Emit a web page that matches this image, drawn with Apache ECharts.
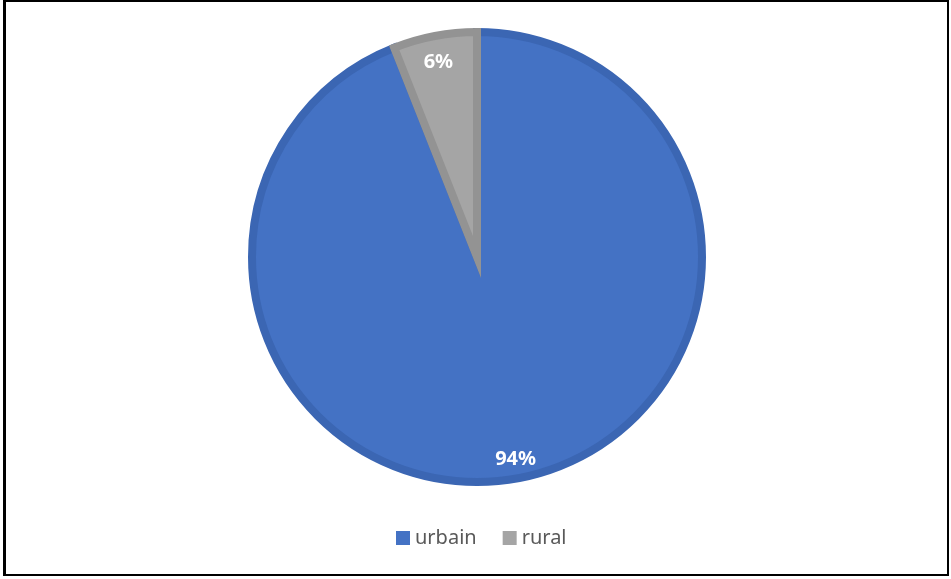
<!DOCTYPE html>
<html>
<head>
<meta charset="utf-8">
<script src="https://cdn.jsdelivr.net/npm/echarts@6/dist/echarts.min.js"></script>
<style>
  html, body { margin: 0; padding: 0; background: #fff; }
  #chart { position: absolute; left: 0; top: 0; width: 951px; height: 579px; }
  .frame {
    position: absolute; left: 3px; top: 0; width: 946px; height: 576px;
    box-sizing: border-box; border: 2px solid #000; border-left-width: 3px;
    pointer-events: none;
  }
</style>
</head>
<body>
<div id="chart"></div>
<div class="frame"></div>
<script>
// 数据
const categories = ["urbain", "rural"];
const values = [94, 6];
const colors = ["#4472C4", "#A5A5A5"];
const borderColors = ["#3B66B3", "#939393"];

const pieData = categories.map((name, i) => ({
  name,
  value: values[i],
  itemStyle: { color: colors[i], borderColor: borderColors[i] }
}));

const chart = echarts.init(document.getElementById("chart"));

chart.setOption({
  animation: false,
  legend: {
    bottom: 26,
    left: 391,
    itemWidth: 14,
    itemHeight: 14,
    itemGap: 26,
    icon: "rect",
    itemStyle: { borderWidth: 0 },
    textStyle: { fontFamily: "Noto Sans", fontSize: 20, color: "#595959" },
    data: categories
  },
  series: [
    {
      // 饼图本体
      type: "pie",
      center: [477, 257],
      radius: [0, 225],
      startAngle: 90,
      clockwise: true,
      itemStyle: { borderWidth: 8, borderJoin: "miter" },
      label: { show: false },
      labelLine: { show: false },
      emphasis: { disabled: true },
      data: pieData
    },
    {
      // 透明外环，只用来放百分比标签
      type: "pie",
      center: [477, 257],
      radius: [180, 226],
      startAngle: 90,
      clockwise: true,
      silent: true,
      itemStyle: { color: "transparent", borderWidth: 0 },
      label: {
        show: true,
        position: "inside",
        formatter: "{d}%",
        color: "#fff",
        fontFamily: "Noto Sans",
        fontWeight: "bold",
        fontSize: 20
      },
      labelLine: { show: false },
      emphasis: { disabled: true },
      data: categories.map((name, i) => ({
        name,
        value: values[i],
        label: i === 1 ? { offset: [0, 8] } : {}
      }))
    }
  ]
});
</script>
</body>
</html>
